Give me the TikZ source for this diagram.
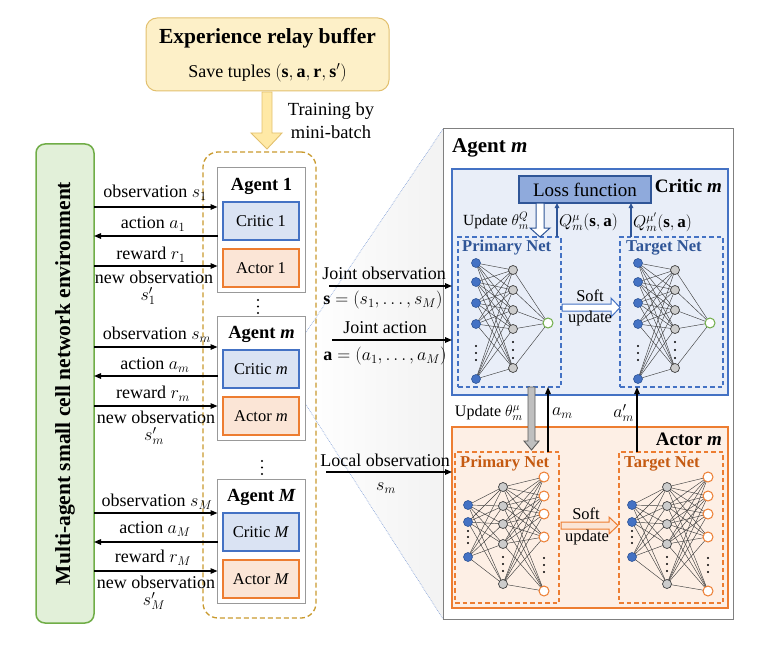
\RequirePackage{fix-cm}
\documentclass[tikz,border=0pt]{standalone}
\usepackage{fontspec}
\setmainfont{Liberation Serif}
\usetikzlibrary{arrows.meta,calc}
\definecolor{cblue}{HTML}{4472C4}
\definecolor{dblue}{HTML}{2F5597}
\definecolor{lblue}{HTML}{DAE3F3}
\definecolor{pblue}{HTML}{E9EEF8}
\definecolor{mblue}{HTML}{8FAADC}
\definecolor{corange}{HTML}{ED7D31}
\definecolor{dorange}{HTML}{C55A11}
\definecolor{lorange}{HTML}{FBE5D6}
\definecolor{porange}{HTML}{FDEFE5}
\definecolor{cgreen}{HTML}{70AD47}
\definecolor{lgreen}{HTML}{E2F0D9}
\definecolor{cgold}{HTML}{C99A2E}
\definecolor{lyellow}{HTML}{FDF0C8}
\definecolor{byellow}{HTML}{E2C06E}
\definecolor{ayellow}{HTML}{FFE9A6}
\newcommand\fsz[2]{\fontsize{#1}{#2}\selectfont}
\newcommand\rbox[6]{\node[#6, anchor=north west, inner sep=0pt, outer sep=0pt,
  minimum width={#4-#2}, minimum height={#5-#3}] (#1) at (#2,#3) {};}
\newcommand\criticnet[2]{%
  \foreach \y [count=\i] in {263,282,303,324,379} \coordinate (#1i\i) at (476+#2,\y);
  \foreach \y [count=\i] in {270,290,310,329,368} \coordinate (#1h\i) at (513+#2,\y);
  \coordinate (#1o) at (548+#2,323);
  \foreach \i in {1,...,5}{\foreach \j in {1,...,5}{\draw[nnline] (#1i\i) -- (#1h\j);}
    \draw[nnline] (#1h\i) -- (#1o);}
  \foreach \i in {1,...,5}{\node[nin] at (#1i\i) {}; \node[nhid] at (#1h\i) {};}
  \node[noutc] at (#1o) {};
  \foreach \y in {346,353,360} \fill (476+#2,\y) circle (1.1);
  \foreach \y in {342,350,358} \fill (513+#2,\y) circle (1.1);
}
\newcommand\actornet[2]{%
  \foreach \y [count=\i] in {505,522,557} \coordinate (#1i\i) at (468+#2,\y);
  \foreach \y [count=\i] in {487,506,524,544,584} \coordinate (#1h\i) at (503+#2,\y);
  \foreach \y [count=\i] in {477,496,514,537,591} \coordinate (#1o\i) at (544+#2,\y);
  \foreach \i in {1,...,3}{\foreach \j in {1,...,5}{\draw[nnline] (#1i\i) -- (#1h\j);}}
  \foreach \i in {1,...,5}{\foreach \j in {1,...,5}{\draw[nnline] (#1h\i) -- (#1o\j);}}
  \foreach \i in {1,...,3}{\node[nin] at (#1i\i) {};}
  \foreach \i in {1,...,5}{\node[nhid] at (#1h\i) {}; \node[nouta] at (#1o\i) {};}
  \foreach \y in {531,537,543} \fill (468+#2,\y) circle (1.1);
  \foreach \y in {557,564,571} \fill (503+#2,\y) circle (1.1);
  \foreach \y in {558,565,572} \fill (544+#2,\y) circle (1.1);
}
\begin{document}
\begin{tikzpicture}[x=1pt,y=-1pt,font=\fsz{18}{21},
  lbl/.style={inner sep=0pt},
  arr/.style={line width=1.4pt,-{Triangle[length=7pt,width=5.5pt]}},
  barr/.style={line width=1.1pt,draw=dblue,-{Triangle[length=5pt,width=4.5pt]}},
  agentbox/.style={draw=black!40,line width=1pt,fill=white},
  criticbox/.style={draw=cblue,line width=1.2pt,fill=lblue},
  actorbox/.style={draw=corange,line width=1.2pt,fill=lorange},
  netbox/.style={dash pattern=on 4.5pt off 3pt,line width=1.1pt},
  nnline/.style={line width=0.45pt,draw=black!75},
  nin/.style={circle,inner sep=0pt,minimum size=9pt,fill=cblue,draw=dblue,line width=0.6pt},
  nhid/.style={circle,inner sep=0pt,minimum size=9pt,fill=black!20,draw=black!75,line width=0.7pt},
  noutc/.style={circle,inner sep=0pt,minimum size=10pt,fill=white,draw=cgreen,line width=1pt},
  nouta/.style={circle,inner sep=0pt,minimum size=10pt,fill=white,draw=corange,line width=1pt},
  zoomline/.style={draw=mblue,densely dotted,line width=0.7pt}]
\useasboundingbox (0,0) rectangle (762,647);

% ---------- experience buffer ----------
\rbox{buf}{146}{18}{389}{91}{draw=byellow,fill=lyellow,line width=1pt,rounded corners=11}
\node[lbl,font=\fsz{21.5}{24}\bfseries] (buft) at (267.5,38) {Experience relay buffer};
\node[lbl] (bufs) at (267.5,73) {Save tuples $(\mathbf{s},\mathbf{a},\mathbf{r},\mathbf{s}')$};
\draw[draw=byellow,fill=ayellow,line width=0.9pt]
  (262,92) -- (272,92) -- (272,133) -- (282,133) -- (267,149) -- (251,133) -- (262,133) -- cycle;
\node[lbl,align=center,font=\fsz{18.5}{23}] (train) at (331,121) {Training by\\mini-batch};

% ---------- environment ----------
\rbox{env}{36}{144}{94}{623}{draw=cgreen,fill=lgreen,line width=1.5pt,rounded corners=9}
\node[rotate=90,lbl,font=\fsz{21.5}{24}\bfseries] (envt) at (env.center) {Multi-agent small cell network environment};

% ---------- zoom funnel ----------
\rbox{agm}{217.5}{316}{305.5}{440}{agentbox}
\rbox{panel}{443}{129}{733}{619}{draw=black!50,fill=white,line width=1pt}
\coordinate (fz1) at ($(agm.north east)+(0,17)$);
\coordinate (fz2) at ($(agm.south east)+(0,-36)$);
\shade[left color=white,right color=black!5] (fz1) -- (panel.north west) -- (panel.south west) -- (fz2) -- cycle;
\draw[zoomline] (fz1) -- (panel.north west);
\draw[zoomline] (fz2) -- (panel.south west);
\rbox{panel2}{443}{129}{733}{619}{draw=black!50,fill=white,line width=1pt}

% ---------- agents container ----------
\rbox{cont}{203}{152}{316}{618}{draw=cgold,dash pattern=on 5pt off 3pt,line width=1.3pt,rounded corners=15}

\rbox{ag1}{217.5}{168}{305.5}{292}{agentbox}
\rbox{cr1}{223}{202}{299}{240}{criticbox}
\rbox{ac1}{223}{249}{299}{287}{actorbox}
\node[lbl,font=\fsz{18.5}{21}\bfseries] at (261.5,186) {Agent 1};
\node[lbl,font=\fsz{16.5}{19}] at (cr1.center) {Critic 1};
\node[lbl,font=\fsz{16.5}{19}] at (ac1.center) {Actor 1};

\rbox{agmb}{217.5}{316}{305.5}{440}{agentbox}
\rbox{crm}{223}{350}{299}{388}{criticbox}
\rbox{acm}{223}{397}{299}{435}{actorbox}
\node[lbl,font=\fsz{18.5}{21}\bfseries] at (261.5,334) {Agent \textit{m}};
\node[lbl,font=\fsz{16.5}{19}] at (crm.center) {Critic \textit{m}};
\node[lbl,font=\fsz{16.5}{19}] at (acm.center) {Actor \textit{m}};

\rbox{agM}{217.5}{479}{305.5}{603}{agentbox}
\rbox{crM}{223}{513}{299}{551}{criticbox}
\rbox{acM}{223}{560}{299}{598}{actorbox}
\node[lbl,font=\fsz{18.5}{21}\bfseries] at (261.5,497) {Agent \textit{M}};
\node[lbl,font=\fsz{16.5}{19}] at (crM.center) {Critic \textit{M}};
\node[lbl,font=\fsz{16.5}{19}] at (acM.center) {Actor \textit{M}};

\foreach \y in {300,306.5,313} \fill (258,\y) circle (1.2);
\foreach \y in {461,467.5,474} \fill (262,\y) circle (1.2);

% ---------- env <-> agents arrows ----------
\foreach \ag/\ya/\yb/\yc in {ag1/207/236/266, agmb/347/376/406, agM/513/542/571}{
  \draw[arr] (env.east |- 0,\ya) -- (\ag.west |- 0,\ya);
  \draw[arr] (\ag.west |- 0,\yb) -- (env.east |- 0,\yb);
  \draw[arr] (env.east |- 0,\yc) -- (\ag.west |- 0,\yc);
}
\node[lbl] at (155,193) {observation $s_1$};
\node[lbl] at (153,224) {action $a_1$};
\node[lbl] at (151,255) {reward $r_1$};
\node[lbl] at (154,277) {new observation};
\node[lbl] at (148,296) {$s_1'$};

\node[lbl] at (157,335) {observation $s_m$};
\node[lbl] at (155,365) {action $a_m$};
\node[lbl] at (153,394) {reward $r_m$};
\node[lbl] at (156,417) {new observation};
\node[lbl] at (154,436) {$s_m'$};

\node[lbl] at (157,502) {observation $s_M$};
\node[lbl] at (155,529) {action $a_M$};
\node[lbl] at (153,558) {reward $r_M$};
\node[lbl] at (156,582) {new observation};
\node[lbl] at (154,601) {$s_M'$};

% ---------- Agent m panel ----------
\node[lbl,anchor=west,font=\fsz{21}{24}\bfseries] (pant) at (452,148) {Agent \textit{m}};

% critic
\rbox{crp}{452}{169}{728}{395}{draw=cblue,fill=pblue,line width=1.2pt}
\rbox{loss}{519}{176}{651}{203}{draw=dblue,fill=mblue,line width=1.2pt}
\node[lbl,font=\fsz{19}{22}] at (loss.center) {Loss function};
\node[lbl,anchor=east,font=\fsz{19}{22}\bfseries] at (722,186) {Critic \textit{m}};
\rbox{cpn}{458}{237}{561}{387}{draw=cblue,netbox}
\rbox{ctn}{620}{237}{723}{387}{draw=cblue,netbox}
\node[lbl,anchor=west,text=dblue,font=\fsz{16.6}{19}\bfseries] at (462,248) {Primary Net};
\node[lbl,anchor=west,text=dblue,font=\fsz{16.6}{19}\bfseries] at (626,248) {Target Net};
\criticnet{cp}{0}
\criticnet{ct}{162}

\draw[draw=dblue,fill=white,line width=1pt]
  (536,203) -- (544,203) -- (544,228) -- (550,228) -- (540,237) -- (530,228) -- (536,228) -- cycle;
\node[lbl,anchor=east,font=\fsz{15.5}{19}] at (529,221) {Update $\theta_m^{Q}$};
\draw[barr] (cpn.north -| 557,0) -- (loss.south -| 557,0);
\node[lbl,anchor=west,font=\fsz{17}{19}] at (559,222) {$Q_m^{\mu}(\mathbf{s},\mathbf{a})$};
\draw[barr] (ctn.north -| 631,0) -- (loss.south -| 631,0);
\node[lbl,anchor=west,font=\fsz{17}{19}] at (633,222) {$Q_m^{\mu'}(\mathbf{s},\mathbf{a})$};

\draw[draw=cblue,fill=white,line width=1pt]
  (562,304) -- (611,304) -- (611,298) -- (620,307.5) -- (611,317) -- (611,311) -- (562,311) -- cycle;
\node[lbl,font=\fsz{16.5}{19}] at (590,296) {Soft};
\node[lbl,font=\fsz{16.5}{19}] at (590,319) {update};

% actor
\rbox{acp}{452}{427}{728}{608}{draw=corange,fill=porange,line width=1.2pt}
\node[lbl,anchor=east,font=\fsz{19}{22}\bfseries] at (722,439) {Actor \textit{m}};
\rbox{apn}{455}{452}{559}{603}{draw=corange,netbox}
\rbox{atn}{619}{452}{723}{603}{draw=corange,netbox}
\node[lbl,anchor=west,text=dorange,font=\fsz{16.6}{19}\bfseries] at (460,464) {Primary Net};
\node[lbl,anchor=west,text=dorange,font=\fsz{16.6}{19}\bfseries] at (624,464) {Target Net};
\actornet{ap}{0}
\actornet{at}{164}

\draw[draw=corange,fill=lorange,line width=1pt]
  (561,522) -- (609,522) -- (609,517) -- (618,525.5) -- (609,534) -- (609,529) -- (561,529) -- cycle;
\node[lbl,font=\fsz{16.5}{19}] at (586,514) {Soft};
\node[lbl,font=\fsz{16.5}{19}] at (587,538) {update};

% critic <-> actor
\draw[draw=black!65,fill=black!25,line width=0.9pt]
  (528,387) -- (535,387) -- (535,441) -- (539,441) -- (531.5,450) -- (524,441) -- (528,441) -- cycle;
\node[lbl,anchor=east,font=\fsz{16}{19}] at (523,413) {Update $\theta_m^{\mu}$};
\draw[arr,line width=1.2pt] (apn.north -| 548,0) -- (cpn.south -| 548,0);
\node[lbl,anchor=west] at (552,413) {$a_m$};
\draw[arr,line width=1.2pt] (atn.north -| 637,0) -- (ctn.south -| 637,0);
\node[lbl,anchor=east] at (634,413) {$a_m'$};

% inputs to panel
\coordinate (jo) at (329,286);
\coordinate (ja) at (332,340);
\coordinate (lo) at (326,472);
\draw[arr] (jo) -- (crp.west |- jo);
\draw[arr] (ja) -- (crp.west |- ja);
\draw[arr] (lo) -- (acp.west |- lo);
\node[lbl] at (384,273) {Joint observation};
\node[lbl] at (383,300) {$\mathbf{s}=(s_1,\ldots,s_M)$};
\node[lbl] at (385,328) {Joint action};
\node[lbl] at (385,356) {$\mathbf{a}=(a_1,\ldots,a_M)$};
\node[lbl] at (385,460) {Local observation};
\node[lbl] at (386,488) {$s_m$};
\end{tikzpicture}
\end{document}
